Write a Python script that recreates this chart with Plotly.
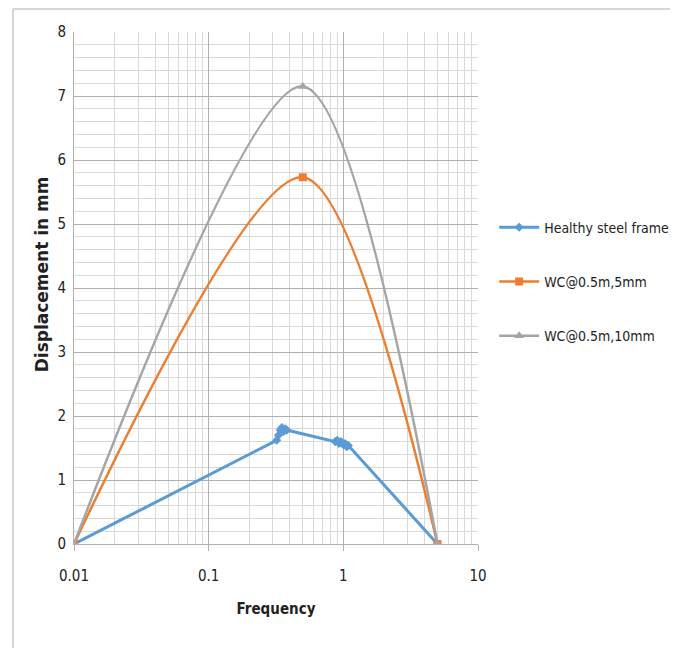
import plotly.graph_objects as go

# Data
healthy_x = [0.01, 0.32, 0.33, 0.34, 0.35, 0.36, 0.37, 0.38, 0.87, 0.90, 0.93, 0.96, 1.00, 1.03, 1.06, 1.09, 5]
healthy_y = [0, 1.62, 1.70, 1.78, 1.82, 1.76, 1.80, 1.78, 1.60, 1.62, 1.57, 1.60, 1.55, 1.57, 1.52, 1.54, 0]
wc5_x = [0.01, 0.5, 5]
wc5_y = [0, 5.73, 0]
wc10_x = [0.01, 0.5, 5]
wc10_y = [0, 7.15, 0]
names = ["Healthy steel frame", "WC@0.5m,5mm", "WC@0.5m,10mm"]
x_title = "Frequency"
y_title = "Displacement in mm"

FONT = "DejaVu Sans Condensed, Liberation Sans Narrow, Open Sans, sans-serif"

fig = go.Figure()
fig.add_trace(go.Scatter(x=healthy_x, y=healthy_y, mode="lines+markers", name=names[0],
                         line=dict(color="#5b9bd5", width=3),
                         marker=dict(symbol="diamond", size=7, color="#5b9bd5"),
                         legendgroup="a"))
fig.add_trace(go.Scatter(x=wc5_x, y=wc5_y, mode="lines+markers", name=names[1],
                         line=dict(color="#ed7d31", width=2.5, shape="spline", smoothing=0.85),
                         marker=dict(symbol="square", size=8, color="#ed7d31"),
                         legendgroup="b"))
fig.add_trace(go.Scatter(x=wc10_x, y=wc10_y, mode="lines+markers", name=names[2],
                         line=dict(color="#a5a5a5", width=2.5, shape="spline", smoothing=0.85),
                         marker=dict(symbol="triangle-up", size=9, color="#a5a5a5"),
                         legendgroup="c"))

fig.update_layout(
    width=670, height=640,
    margin=dict(l=66, r=200, t=24, b=104, autoexpand=False),
    paper_bgcolor="white", plot_bgcolor="white",
    font=dict(family=FONT, size=14, color="#222222"),
    legend=dict(x=1.04, y=0.649, xanchor="left", yanchor="top",
                font=dict(family=FONT, size=14, color="#222222"),
                bgcolor="rgba(0,0,0,0)",
                tracegroupgap=33, itemwidth=40),
    showlegend=True,
)
fig.update_xaxes(type="log", range=[-2, 1], automargin=False,
                 tickvals=[0.01, 0.1, 1, 10], ticktext=["0.01", "0.1", "1", "10"],
                 showgrid=True, gridcolor="#b0b0b0", gridwidth=1,
                 minor=dict(showgrid=True, gridcolor="#d9d9d9", dtick="D1", ticks=""),
                 ticks="outside", ticklen=6, tickcolor="#b0b0b0",
                 ticklabelstandoff=12,
                 showline=True, linecolor="#b0b0b0", zeroline=False,
                 title=dict(text="<b>" + x_title + "</b>", font=dict(family=FONT, size=15), standoff=19),
                 tickfont=dict(size=15))
fig.update_yaxes(range=[0, 8], dtick=1, automargin=False,
                 showgrid=True, gridcolor="#b0b0b0", gridwidth=1,
                 minor=dict(showgrid=True, gridcolor="#d9d9d9", dtick=0.2),
                 showline=True, linecolor="#b0b0b0", zeroline=False, mirror=False,
                 ticks="", ticklabelstandoff=4,
                 tickfont=dict(size=15))

fig.add_annotation(text="<b>" + y_title + "</b>", xref="paper", yref="paper",
                   x=-0.079, y=0.527, textangle=-90, showarrow=False,
                   xanchor="center", yanchor="middle",
                   font=dict(family="DejaVu Sans, sans-serif", size=17, color="#222222"))

# outer chart border (left, top, right)
border = dict(color="#c8c8c8", width=1.5)
fig.add_shape(type="line", xref="paper", yref="paper", x0=-0.151, x1=-0.151, y0=-0.21, y1=1.045, line=border, layer="below")
fig.add_shape(type="line", xref="paper", yref="paper", x0=-0.151, x1=1.4876, y0=1.045, y1=1.045, line=border, layer="below")
fig.add_shape(type="line", xref="paper", yref="paper", x0=1.4876, x1=1.4876, y0=-0.21, y1=1.045, line=border, layer="below")

fig.write_html("out.html")
